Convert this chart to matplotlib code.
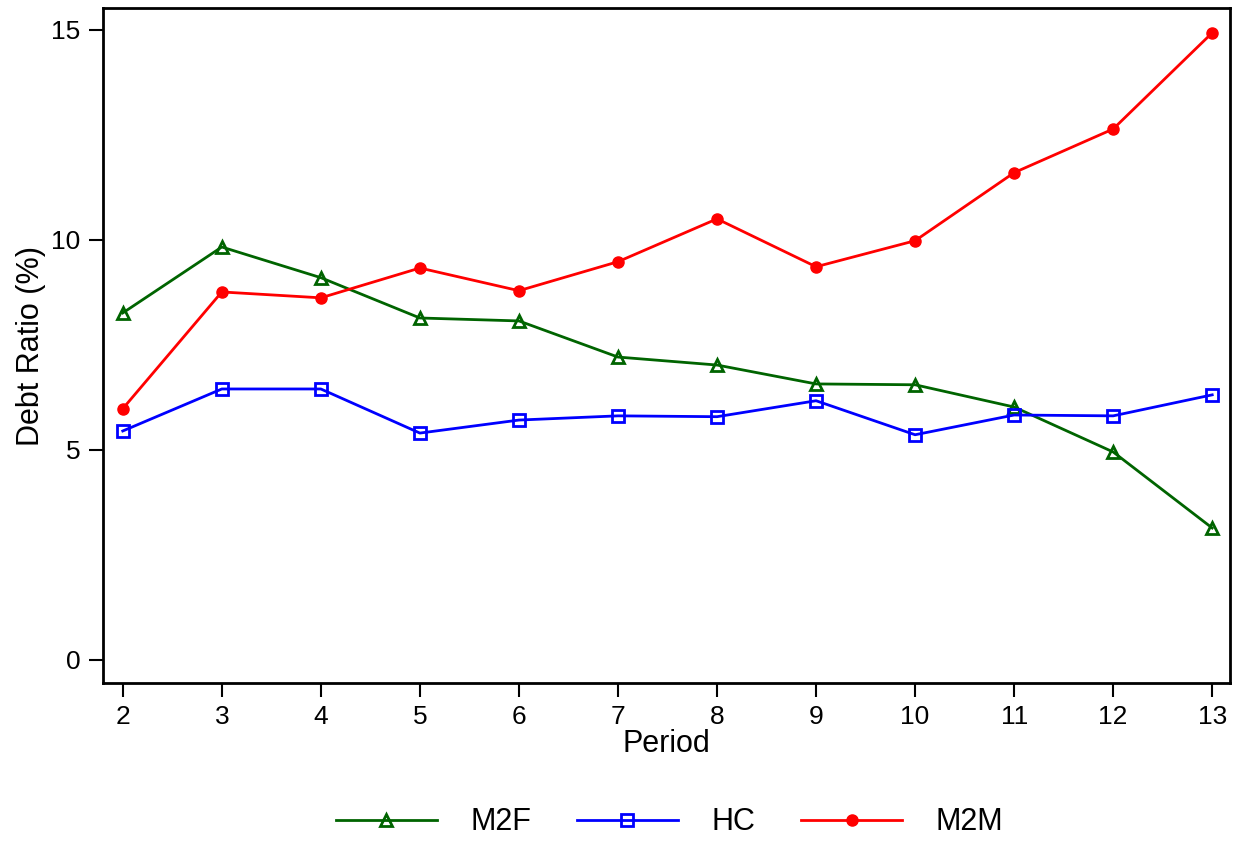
import matplotlib.pyplot as plt
from matplotlib import font_manager

# pick narrow font if available
names = {f.name for f in font_manager.fontManager.ttflist}
font = "Liberation Sans Narrow" if "Liberation Sans Narrow" in names else "Liberation Sans"
plt.rcParams['font.family'] = [font, 'DejaVu Sans']

period = [2, 3, 4, 5, 6, 7, 8, 9, 10, 11, 12, 13]
m2f = [8.26, 9.83, 9.10, 8.14, 8.07, 7.21, 7.02, 6.57, 6.55, 6.02, 4.95, 3.14]
hc = [5.45, 6.45, 6.45, 5.40, 5.71, 5.81, 5.79, 6.17, 5.36, 5.83, 5.81, 6.31]
m2m = [5.98, 8.76, 8.62, 9.33, 8.79, 9.48, 10.50, 9.36, 9.98, 11.60, 12.64, 14.93]

fig = plt.figure(figsize=(12.33, 8.63), dpi=100)
ax = fig.add_axes([0.0835, 0.2086, 0.9141, 0.7821])

ax.plot(period, m2f, color='#006400', lw=2, marker='^', ms=9, mfc='none', mew=2, label='M2F')
ax.plot(period, hc, color='#0000FF', lw=2, marker='s', ms=8, mfc='none', mew=2, label='HC')
ax.plot(period, m2m, color='#FF0000', lw=2, marker='o', ms=8, label='M2M')

ax.set_xlim(1.8, 13.18)
ax.set_ylim(-0.55, 15.52)
ax.set_xticks(period)
ax.set_yticks([0, 5, 10, 15])
ax.tick_params(direction='out', length=10, width=1.5, labelsize=19, pad=6)
for s in ax.spines.values():
    s.set_linewidth(2)

ax.set_xlabel('Period', fontsize=22, labelpad=0)
ax.set_ylabel('Debt Ratio (%)', fontsize=22, labelpad=4)

fig.legend(loc='center', bbox_to_anchor=(0.543, 0.047), ncol=3, frameon=False,
           fontsize=22, handlelength=3.3, columnspacing=1.5, handletextpad=1.1)

fig.savefig('out.png', dpi=100)
